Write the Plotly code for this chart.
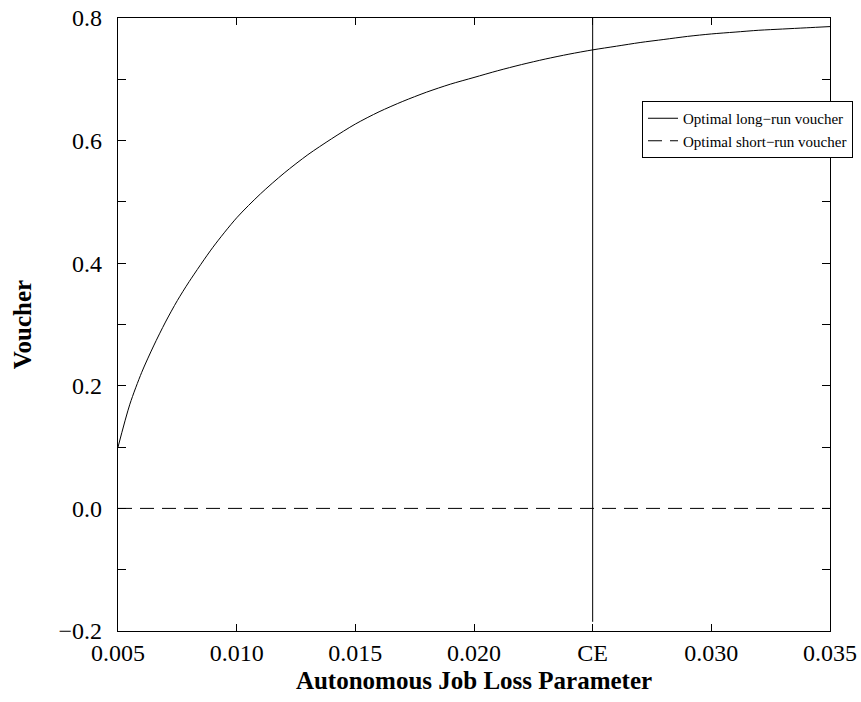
import plotly.graph_objects as go

# Data
job_loss = [0.005, 0.0055, 0.006, 0.0065, 0.007, 0.0075, 0.008, 0.009, 0.010,
            0.011, 0.012, 0.013, 0.014, 0.015, 0.016, 0.017, 0.018, 0.019,
            0.020, 0.021, 0.022, 0.023, 0.024, 0.025, 0.026, 0.027, 0.028,
            0.029, 0.030, 0.031, 0.032, 0.033, 0.034, 0.035]
long_run_voucher = [0.100, 0.170, 0.222, 0.265, 0.304, 0.339, 0.370, 0.426, 0.474,
                    0.513, 0.547, 0.577, 0.603, 0.627, 0.647, 0.664, 0.679, 0.692,
                    0.703, 0.714, 0.724, 0.733, 0.741, 0.748, 0.754, 0.760, 0.765,
                    0.770, 0.774, 0.777, 0.780, 0.782, 0.784, 0.786]
short_run_x = [0.005, 0.035]
short_run_voucher = [0.0, 0.0]
ce_value = 0.025
ce_line_y = [-0.185, 0.8]

x_tickvals = [0.005, 0.010, 0.015, 0.020, 0.025, 0.030, 0.035]
x_ticktext = ["0.005", "0.010", "0.015", "0.020", "CE", "0.030", "0.035"]
y_tickvals = [-0.2, -0.1, 0.0, 0.1, 0.2, 0.3, 0.4, 0.5, 0.6, 0.7, 0.8]
y_ticktext = ["\u22120.2", "", "0.0", "", "0.2", "", "0.4", "", "0.6", "", "0.8"]

FONT = "Liberation Serif, Times New Roman, serif"

fig = go.Figure()
fig.add_trace(go.Scatter(x=job_loss, y=long_run_voucher, mode="lines",
                         name="Optimal long\u2212run voucher",
                         line=dict(color="black", width=1, shape="spline", smoothing=0.8)))
fig.add_trace(go.Scatter(x=short_run_x, y=short_run_voucher, mode="lines",
                         name="Optimal short\u2212run voucher",
                         line=dict(color="black", width=1, dash="14px,8px")))
fig.add_trace(go.Scatter(x=[ce_value, ce_value], y=ce_line_y, mode="lines",
                         showlegend=False,
                         line=dict(color="black", width=1)))

W, H = 861, 702
L, R, T, B = 118, 31, 18, 71
pw = W - L - R
ph = H - T - B

fig.update_layout(
    width=W, height=H,
    margin=dict(l=L, r=R, t=T, b=B, autoexpand=False),
    paper_bgcolor="white", plot_bgcolor="white",
    font=dict(family=FONT, color="black", size=24),
    showlegend=True,
    legend=dict(
        x=(853 - L) / pw, y=(H - B - 101) / ph,
        xanchor="right", yanchor="top",
        bgcolor="white", bordercolor="black", borderwidth=1,
        font=dict(family=FONT, size=15, color="black"),
        tracegroupgap=0,
    ),
    xaxis=dict(
        range=[0.005, 0.035], automargin=False,
        tickmode="array", tickvals=x_tickvals, ticktext=x_ticktext,
        ticks="inside", ticklen=7, tickwidth=1, tickcolor="black",
        showline=True, linecolor="black", linewidth=1.2, mirror="ticks",
        showgrid=False, zeroline=False,
        tickfont=dict(family=FONT, size=24),
        ticklabelstandoff=0,
        title=dict(text="<b>Autonomous Job Loss Parameter</b>",
                   font=dict(family=FONT, size=25), standoff=6),
    ),
    yaxis=dict(
        range=[-0.2, 0.8], automargin=False,
        tickmode="array", tickvals=y_tickvals, ticktext=y_ticktext,
        ticks="inside", ticklen=8, tickwidth=1, tickcolor="black",
        showline=True, linecolor="black", linewidth=1.2, mirror="ticks",
        showgrid=False, zeroline=False,
        tickfont=dict(family=FONT, size=24),
        ticklabelstandoff=10,
        title=dict(text="<b>Voucher</b>",
                   font=dict(family=FONT, size=25), standoff=19),
    ),
)

fig.write_html("out.html",
               config={"displayModeBar": False},
               post_script="document.body.style.margin='0';document.body.style.overflow='hidden';")
